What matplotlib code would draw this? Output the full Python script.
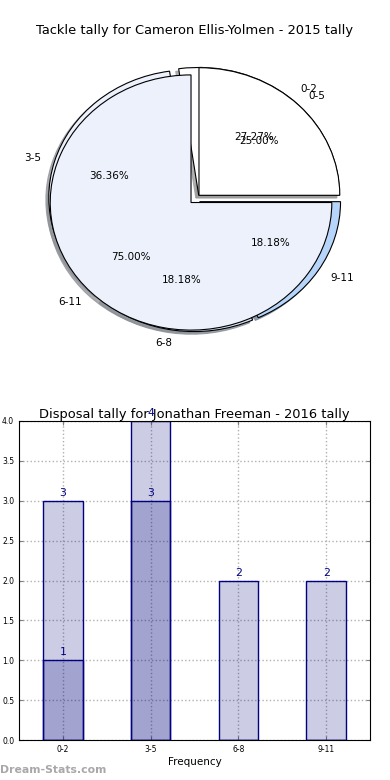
import matplotlib
matplotlib.use("Agg")
import matplotlib.pyplot as plt
import numpy as np

# top pie: two overlaid pies (fine and coarse buckets)
tackle_cats_fine   = ['0-2', '3-5', '6-8', '9-11']
tackle_vals_fine   = [3, 4, 2, 2]
tackle_cats_coarse = ['0-5', '6-11']
tackle_vals_coarse = [1, 3]
pie_colors = ['white', '#ECF1FC', '#D6E4F8', '#B7D5FA']

# bottom bars: two overlapping series
disposal_cats = ['0-2', '3-5', '6-8', '9-11']
disposals_a   = [3, 4, 2, 2]
disposals_b   = [1, 3, 0, 0]

fig = plt.figure(figsize=(3.9, 7.8), dpi=100)

# pie is not forced round in the original: a little squashed vertically
ax1 = fig.add_axes([19 / 390, 1 - 358.4 / 780, 352 / 390, 319 / 780])
shadow_kw = {'ox': -0.015, 'oy': -0.015, 'shade': 0.4, 'alpha': 0.75}
for vals, labs in [(tackle_vals_fine, tackle_cats_fine),
                   (tackle_vals_coarse, tackle_cats_coarse)]:
    wedges, texts, autotexts = ax1.pie(
        vals, labels=labs, colors=pie_colors[:len(vals)],
        explode=[0.04] * len(vals), autopct='%1.2f%%', shadow=shadow_kw,
        wedgeprops={'edgecolor': 'black', 'linewidth': 0.8},
        textprops={'fontsize': 7.5})
ax1.set_aspect('auto')
ax1.set_xlim(-1.25, 1.25)
ax1.set_ylim(-1.25, 1.25)
fig.text(0.5, 1 - 30.5 / 780, 'Tackle tally for Cameron Ellis-Yolmen - 2015 tally',
         ha='center', va='center', fontsize=9.4)

ax2 = fig.add_axes([19 / 390, 1 - 740 / 780, 351 / 390, 319 / 780])
x = np.arange(len(disposal_cats))
for series in [disposals_a, disposals_b]:
    bars = ax2.bar(x, series, width=0.45, facecolor=(0, 0, 0.5, 0.2),
                   edgecolor='navy', linewidth=1, zorder=2)
    for xi, h in zip(x, series):
        if h > 0:
            ax2.annotate(str(h), (xi, h), xytext=(0, 2), textcoords='offset points',
                         ha='center', va='bottom', color='navy', fontsize=7.8,
                         annotation_clip=False)
ax2.set_xlim(-0.5, 3.5)
ax2.set_ylim(0, 4)
ax2.set_yticks(np.arange(0, 4.01, 0.5))
ax2.set_xticks(x)
ax2.set_xticklabels(disposal_cats)
ax2.tick_params(direction='in', top=True, right=True, labelsize=5.5,
                color='grey', length=3)
ax2.grid(True, linestyle=':', color='#b0b0b0', linewidth=1, zorder=0)
ax2.set_axisbelow(True)
ax2.set_xlabel('Frequency', fontsize=7.5, labelpad=2)
ax2.set_title('Disposal tally for Jonathan Freeman - 2016 tally', fontsize=9.4, pad=2)

fig.text(0.0, 1 - 770 / 780, 'Dream-Stats.com', ha='left', va='center',
         fontsize=7.8, color='#a8a8a8', fontweight='bold')

fig.savefig('out.png', dpi=100)
